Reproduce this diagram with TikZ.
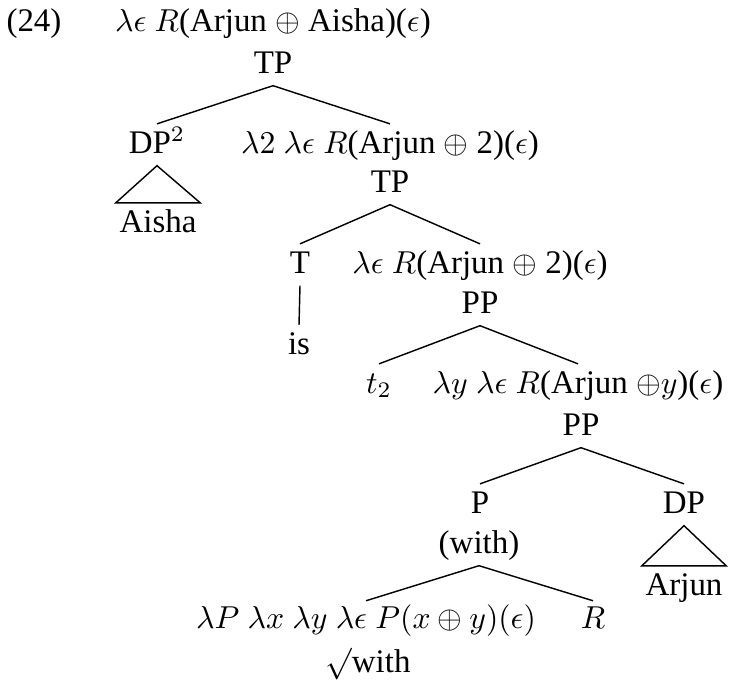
\documentclass[tikz,border=0pt]{standalone}
\usepackage{fontspec}
\setmainfont{Liberation Serif}
\usepackage{tikz}

\begin{document}
\begin{tikzpicture}[
    x=0.3155pt, y=-0.3155pt,
    lbl/.style={anchor=base, text height=5.2pt, text depth=0pt, inner xsep=1pt, inner ysep=3.8pt, font=\fontsize{10.4pt}{12.5pt}\selectfont},
    br/.style={line width=0.45pt, color=black},
    tri/.style={line width=0.45pt, color=black, line join=miter},
]
\useasboundingbox (0,0) rectangle (731,686);

\node[lbl] (ex) at (34,31) {(24)};
\node[lbl] (s0) at (273,31) {$\lambda\epsilon\ R$(Arjun $\oplus$ Aisha)($\epsilon$)};
\node[lbl] (tp0) at (273,73) {TP};
\node[lbl] (dp2) at (157,153) {DP$^2$};
\node[lbl] (s1) at (390,153) {$\lambda2\ \lambda\epsilon\ R$(Arjun $\oplus$ 2)($\epsilon$)};
\node[lbl] (tp1) at (390,192) {TP};
\node[lbl] (aisha) at (158,232) {Aisha};
\node[lbl] (t) at (300,273) {T};
\node[lbl] (s2) at (480,273) {$\lambda\epsilon\ R$(Arjun $\oplus$ 2)($\epsilon$)};
\node[lbl] (pp1) at (480,313) {PP};
\node[lbl] (is) at (299,354) {is};
\node[lbl] (t2) at (379,393) {$t_2$};
\node[lbl] (s3) at (578,393) {$\lambda y\ \lambda\epsilon\ R$(Arjun $\oplus y$)($\epsilon$)};
\node[lbl] (pp2) at (581,435) {PP};
\node[lbl] (p) at (480,513) {P};
\node[lbl] (with) at (479,553) {(with)};
\node[lbl] (dp) at (684,513) {DP};
\node[lbl] (arjun) at (684,595) {Arjun};
\node[lbl] (s4) at (366,628) {$\lambda P\ \lambda x\ \lambda y\ \lambda\epsilon\ P(x \oplus y)(\epsilon)$};
\node[lbl] (sq) at (368,672) {$\surd$with};
\node[lbl] (r) at (593,628) {$R$};

% branches
\draw[br] (tp0.south) -- (dp2.north);
\draw[br] (tp0.south) -- (s1.north);
\draw[br] (tp1.south) -- (t.north);
\draw[br] (tp1.south) -- (s2.north);
\draw[br] (t.south) -- (is.north);
\draw[br] (pp1.south) -- (t2.north);
\draw[br] (pp1.south) -- (s3.north);
\draw[br] (pp2.south) -- (p.north);
\draw[br] (pp2.south) -- (dp.north);
\draw[br] (with.south) -- ([yshift=-0.6pt]s4.north);
\draw[br] (with.south) -- ([yshift=-0.6pt]r.north);

% triangles
\draw[tri] (dp2.south) -- (aisha.north west) -- (aisha.north east) -- cycle;
\draw[tri] (dp.south) -- (arjun.north west) -- (arjun.north east) -- cycle;
\end{tikzpicture}
\end{document}
